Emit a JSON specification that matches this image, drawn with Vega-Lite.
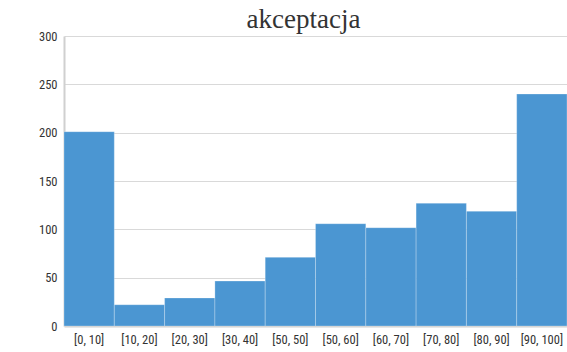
{
  "$schema": "https://vega.github.io/schema/vega-lite/v6.json",
  "width": 503,
  "height": 290,
  "autosize": {"type": "none"},
  "padding": {"left": 64, "top": 36, "right": 0, "bottom": 26},
  "background": "white",
  "title": {
    "text": "akceptacja",
    "font": "Liberation Serif",
    "fontSize": 27,
    "fontWeight": "normal",
    "color": "#333333",
    "anchor": "middle",
    "offset": -4,
    "dx": -12
  },
  "data": {
    "values": [
      {"bin": "[0, 10]", "count": 201},
      {"bin": "[10, 20]", "count": 22},
      {"bin": "[20, 30]", "count": 29},
      {"bin": "[30, 40]", "count": 46.5},
      {"bin": "[50, 50]", "count": 71},
      {"bin": "[50, 60]", "count": 105.8},
      {"bin": "[60, 70]", "count": 101.7},
      {"bin": "[70, 80]", "count": 127},
      {"bin": "[80, 90]", "count": 118.7},
      {"bin": "[90, 100]", "count": 240}
    ]
  },
  "mark": {"type": "bar", "color": "#4b96d2", "stroke": "#ffffff", "strokeOpacity": 0.25, "strokeWidth": 1},
  "encoding": {
    "x": {
      "field": "bin",
      "type": "nominal",
      "sort": null,
      "scale": {"paddingInner": 0, "paddingOuter": 0},
      "axis": {
        "title": null,
        "labelAngle": 0,
        "ticks": false,
        "labelPadding": 7,
        "labelFont": "Liberation Sans Narrow, Roboto Condensed, Liberation Sans",
        "labelFontSize": 12.5,
        "labelColor": "#333333",
        "domainColor": "#d0d0d0",
        "domainWidth": 2
      }
    },
    "y": {
      "field": "count",
      "type": "quantitative",
      "scale": {"domain": [0, 300], "nice": false},
      "axis": {
        "title": null,
        "values": [0, 50, 100, 150, 200, 250, 300],
        "ticks": false,
        "labelPadding": 7,
        "labelFont": "Liberation Sans Narrow, Roboto Condensed, Liberation Sans",
        "labelFontSize": 12.5,
        "labelColor": "#333333",
        "gridColor": "#d9d9d9",
        "gridWidth": 1,
        "domainColor": "#d0d0d0",
        "domainWidth": 2
      }
    }
  },
  "config": {"view": {"stroke": null}}
}
